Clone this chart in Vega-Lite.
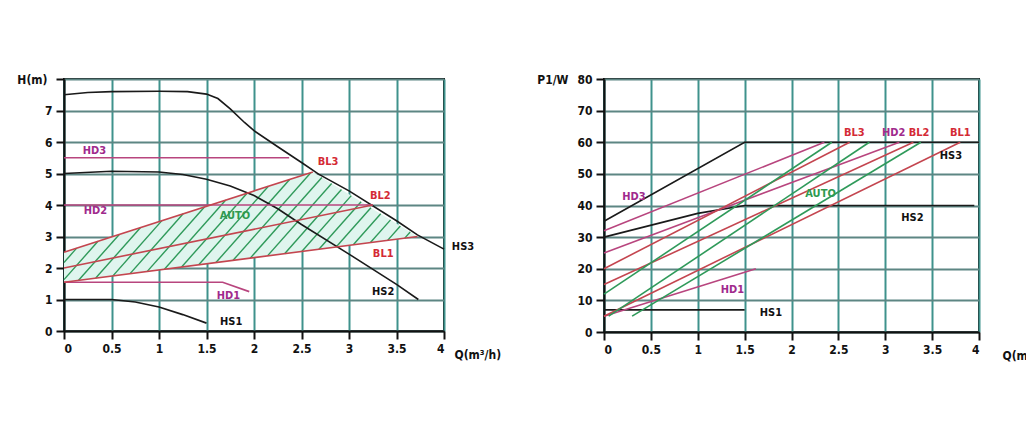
{
  "$schema": "https://vega.github.io/schema/vega-lite/v6.json",
  "background": "white",
  "padding": {"left": 15, "top": 72, "right": 0, "bottom": 0},
  "spacing": 160,
  "bounds": "flush",
  "config": {
    "view": {"stroke": "#111", "strokeWidth": 2},
    "font": "DejaVu Sans Condensed, DejaVu Sans",
    "axis": {
      "domainColor": "#111", "domainWidth": 2, "tickColor": "#111", "tickWidth": 2, "tickSize": 8,
      "labelFontWeight": "bold", "labelFontSize": 12, "labelColor": "#111", "labelPadding": 4, "labelOverlap": false,
      "titleFontWeight": "bold", "titleFontSize": 12, "titleColor": "#111",
      "grid": true, "gridWidth": 2
    },
    "text": {"fontWeight": "bold", "fontSize": 11}
  },
  "datasets": {
    "hfill": [
      {"Q": 0, "v": 2.5, "v2": 1.55},
      {"Q": 2.62, "v": 5.05, "v2": 2.571},
      {"Q": 3.72, "v": 3.0, "v2": 3.0}
    ],
    "hlines": [
      {"s": "HS3", "k": "hs", "Q": 0, "v": 7.5}, {"s": "HS3", "k": "hs", "Q": 0.25, "v": 7.57}, {"s": "HS3", "k": "hs", "Q": 0.5, "v": 7.6},
      {"s": "HS3", "k": "hs", "Q": 1.0, "v": 7.61}, {"s": "HS3", "k": "hs", "Q": 1.3, "v": 7.6}, {"s": "HS3", "k": "hs", "Q": 1.5, "v": 7.52},
      {"s": "HS3", "k": "hs", "Q": 1.62, "v": 7.38}, {"s": "HS3", "k": "hs", "Q": 1.75, "v": 7.05}, {"s": "HS3", "k": "hs", "Q": 1.9, "v": 6.62},
      {"s": "HS3", "k": "hs", "Q": 2.0, "v": 6.36}, {"s": "HS3", "k": "hs", "Q": 2.25, "v": 5.85}, {"s": "HS3", "k": "hs", "Q": 2.5, "v": 5.35},
      {"s": "HS3", "k": "hs", "Q": 2.68, "v": 4.98}, {"s": "HS3", "k": "hs", "Q": 3.0, "v": 4.45}, {"s": "HS3", "k": "hs", "Q": 3.5, "v": 3.5},
      {"s": "HS3", "k": "hs", "Q": 3.72, "v": 3.05}, {"s": "HS3", "k": "hs", "Q": 4.0, "v": 2.6},
      {"s": "HS2", "k": "hs", "Q": 0, "v": 5.0}, {"s": "HS2", "k": "hs", "Q": 0.5, "v": 5.07}, {"s": "HS2", "k": "hs", "Q": 1.0, "v": 5.05},
      {"s": "HS2", "k": "hs", "Q": 1.25, "v": 4.97}, {"s": "HS2", "k": "hs", "Q": 1.5, "v": 4.82}, {"s": "HS2", "k": "hs", "Q": 1.75, "v": 4.6},
      {"s": "HS2", "k": "hs", "Q": 2.0, "v": 4.3}, {"s": "HS2", "k": "hs", "Q": 2.25, "v": 3.88}, {"s": "HS2", "k": "hs", "Q": 2.5, "v": 3.38},
      {"s": "HS2", "k": "hs", "Q": 3.0, "v": 2.44}, {"s": "HS2", "k": "hs", "Q": 3.5, "v": 1.48}, {"s": "HS2", "k": "hs", "Q": 3.73, "v": 1.0},
      {"s": "HS1", "k": "hs", "Q": 0, "v": 1.0}, {"s": "HS1", "k": "hs", "Q": 0.5, "v": 1.0}, {"s": "HS1", "k": "hs", "Q": 0.75, "v": 0.92},
      {"s": "HS1", "k": "hs", "Q": 1.0, "v": 0.76}, {"s": "HS1", "k": "hs", "Q": 1.25, "v": 0.52}, {"s": "HS1", "k": "hs", "Q": 1.5, "v": 0.25},
      {"s": "HD3", "k": "hd", "Q": 0, "v": 5.5}, {"s": "HD3", "k": "hd", "Q": 2.37, "v": 5.5},
      {"s": "HD2", "k": "hd", "Q": 0, "v": 4.0}, {"s": "HD2", "k": "hd", "Q": 3.25, "v": 4.0},
      {"s": "HD1", "k": "hd", "Q": 0, "v": 1.55}, {"s": "HD1", "k": "hd", "Q": 1.67, "v": 1.55}, {"s": "HD1", "k": "hd", "Q": 1.95, "v": 1.25},
      {"s": "BL3", "k": "bl", "Q": 0, "v": 2.5}, {"s": "BL3", "k": "bl", "Q": 2.62, "v": 5.05},
      {"s": "BL2", "k": "bl", "Q": 0, "v": 2.0}, {"s": "BL2", "k": "bl", "Q": 3.25, "v": 4.0},
      {"s": "BL1", "k": "bl", "Q": 0, "v": 1.55}, {"s": "BL1", "k": "bl", "Q": 3.72, "v": 3.0}
    ],
    "hhatch": [
      {"s": "h01", "Q": 0, "v": 2.176}, {"s": "h01", "Q": 0.1335, "v": 2.63},
      {"s": "h02", "Q": 0, "v": 1.632}, {"s": "h02", "Q": 0.3577, "v": 2.848},
      {"s": "h03", "Q": 0.1535, "v": 1.61}, {"s": "h03", "Q": 0.5819, "v": 3.066},
      {"s": "h04", "Q": 0.3342, "v": 1.68}, {"s": "h04", "Q": 0.806, "v": 3.284},
      {"s": "h05", "Q": 0.5149, "v": 1.751}, {"s": "h05", "Q": 1.0302, "v": 3.503},
      {"s": "h06", "Q": 0.6956, "v": 1.821}, {"s": "h06", "Q": 1.2544, "v": 3.721},
      {"s": "h07", "Q": 0.8764, "v": 1.892}, {"s": "h07", "Q": 1.4786, "v": 3.939},
      {"s": "h08", "Q": 1.0571, "v": 1.962}, {"s": "h08", "Q": 1.7027, "v": 4.157},
      {"s": "h09", "Q": 1.2378, "v": 2.032}, {"s": "h09", "Q": 1.9269, "v": 4.375},
      {"s": "h10", "Q": 1.4185, "v": 2.103}, {"s": "h10", "Q": 2.1511, "v": 4.594},
      {"s": "h11", "Q": 1.5992, "v": 2.173}, {"s": "h11", "Q": 2.3753, "v": 4.812},
      {"s": "h12", "Q": 1.7799, "v": 2.244}, {"s": "h12", "Q": 2.5994, "v": 5.03},
      {"s": "h13", "Q": 1.9607, "v": 2.314}, {"s": "h13", "Q": 2.7139, "v": 4.875},
      {"s": "h14", "Q": 2.1414, "v": 2.385}, {"s": "h14", "Q": 2.8172, "v": 4.683},
      {"s": "h15", "Q": 2.3221, "v": 2.455}, {"s": "h15", "Q": 2.9206, "v": 4.49},
      {"s": "h16", "Q": 2.5028, "v": 2.526}, {"s": "h16", "Q": 3.0239, "v": 4.297},
      {"s": "h17", "Q": 2.6835, "v": 2.596}, {"s": "h17", "Q": 3.1273, "v": 4.105},
      {"s": "h18", "Q": 2.8643, "v": 2.667}, {"s": "h18", "Q": 3.2306, "v": 3.912},
      {"s": "h19", "Q": 3.045, "v": 2.737}, {"s": "h19", "Q": 3.334, "v": 3.72},
      {"s": "h20", "Q": 3.2257, "v": 2.807}, {"s": "h20", "Q": 3.4373, "v": 3.527},
      {"s": "h21", "Q": 3.4064, "v": 2.878}, {"s": "h21", "Q": 3.5407, "v": 3.334},
      {"s": "h22", "Q": 3.5871, "v": 2.948}, {"s": "h22", "Q": 3.644, "v": 3.142}
    ],
    "hlabels": [
      {"t": "HD3", "k": "hd", "Q": 0.32, "v": 5.72}, {"t": "HD2", "k": "hd", "Q": 0.33, "v": 3.82},
      {"t": "HD1", "k": "hd", "Q": 1.73, "v": 1.12}, {"t": "HS1", "k": "hs", "Q": 1.76, "v": 0.28},
      {"t": "HS2", "k": "hs", "Q": 3.36, "v": 1.23}, {"t": "HS3", "k": "hs", "Q": 4.2, "v": 2.66},
      {"t": "BL3", "k": "bl", "Q": 2.78, "v": 5.37}, {"t": "BL2", "k": "bl", "Q": 3.33, "v": 4.28},
      {"t": "BL1", "k": "bl", "Q": 3.36, "v": 2.44}, {"t": "AUTO", "k": "auto", "Q": 1.8, "v": 3.66}
    ],
    "plines": [
      {"s": "HS3", "k": "hs", "Q": 0, "v": 35}, {"s": "HS3", "k": "hs", "Q": 1.5, "v": 60}, {"s": "HS3", "k": "hs", "Q": 4.0, "v": 60},
      {"s": "HS2", "k": "hs", "Q": 0, "v": 30}, {"s": "HS2", "k": "hs", "Q": 1.0, "v": 37.5}, {"s": "HS2", "k": "hs", "Q": 1.5, "v": 40}, {"s": "HS2", "k": "hs", "Q": 3.95, "v": 40},
      {"s": "HS1", "k": "hs", "Q": 0, "v": 7}, {"s": "HS1", "k": "hs", "Q": 1.5, "v": 7},
      {"s": "HD3", "k": "hd", "Q": 0, "v": 32}, {"s": "HD3", "k": "hd", "Q": 2.35, "v": 60},
      {"s": "HD2", "k": "hd", "Q": 0, "v": 25}, {"s": "HD2", "k": "hd", "Q": 3.15, "v": 60},
      {"s": "HD1", "k": "hd", "Q": 0, "v": 5}, {"s": "HD1", "k": "hd", "Q": 1.62, "v": 20},
      {"s": "BL3", "k": "bl", "Q": 0, "v": 20}, {"s": "BL3", "k": "bl", "Q": 2.62, "v": 60},
      {"s": "BL2", "k": "bl", "Q": 0, "v": 15}, {"s": "BL2", "k": "bl", "Q": 3.3, "v": 60},
      {"s": "BL1", "k": "bl", "Q": 0, "v": 5}, {"s": "BL1", "k": "bl", "Q": 3.8, "v": 60},
      {"s": "A1", "k": "auto", "Q": 0, "v": 12}, {"s": "A1", "k": "auto", "Q": 2.43, "v": 60},
      {"s": "A2", "k": "auto", "Q": 0.05, "v": 5}, {"s": "A2", "k": "auto", "Q": 2.83, "v": 60},
      {"s": "A3", "k": "auto", "Q": 0.3, "v": 5}, {"s": "A3", "k": "auto", "Q": 3.38, "v": 60}
    ],
    "plabels": [
      {"t": "HD3", "k": "hd", "Q": 0.32, "v": 42.8}, {"t": "HD1", "k": "hd", "Q": 1.37, "v": 13.3},
      {"t": "HS1", "k": "hs", "Q": 1.78, "v": 5.9}, {"t": "HS2", "k": "hs", "Q": 3.29, "v": 36},
      {"t": "HS3", "k": "hs", "Q": 3.7, "v": 55.7}, {"t": "AUTO", "k": "auto", "Q": 2.31, "v": 43.6},
      {"t": "BL3", "k": "bl", "Q": 2.67, "v": 63}, {"t": "HD2", "k": "hd", "Q": 3.09, "v": 63},
      {"t": "BL2", "k": "bl", "Q": 3.36, "v": 63}, {"t": "BL1", "k": "bl", "Q": 3.8, "v": 63}
    ]
  },
  "hconcat": [
    {
      "width": 380, "height": 252,
      "encoding": {
        "x": {"field": "Q", "type": "quantitative", "scale": {"domain": [0, 4], "nice": false},
          "axis": {"values": [0, 0.5, 1, 1.5, 2, 2.5, 3, 3.5, 4], "tickCount": 40, "format": ".1~f", "gridColor": "#3f928c", "title": "Q(m³/h)", "titleAngle": 0, "titleX": 390, "titleY": 23, "titleAlign": "left", "titleBaseline": "middle"}},
        "y": {"field": "v", "type": "quantitative", "scale": {"domain": [0, 8], "nice": false},
          "axis": {"values": [0, 1, 2, 3, 4, 5, 6, 7, 8], "tickCount": 40, "format": "d", "gridColor": "#5d8683", "labelExpr": "datum.value == 8 ? '' : datum.label", "title": "H(m)", "titleAngle": 0, "titleX": -17, "titleY": 0, "titleAlign": "right", "titleBaseline": "middle"}}
      },
      "layer": [
        {
          "data": {"name": "hfill"},
          "mark": {"type": "area", "color": "#dff5ee", "opacity": 1},
          "encoding": {"y2": {"field": "v2"}}
        },
        {
          "data": {"name": "hhatch"},
          "mark": {"type": "line", "color": "#2f9a5a", "strokeWidth": 1.4},
          "encoding": {"detail": {"field": "s"}}
        },
        {
          "data": {"name": "hlines"},
          "mark": {"type": "line", "strokeWidth": 1.6},
          "encoding": {
            "detail": {"field": "s"},
            "color": {"field": "k", "type": "nominal", "legend": null,
              "scale": {"domain": ["hs", "hd", "bl", "auto"], "range": ["#1a1a1a", "#b8457e", "#c4454f", "#2f9a5a"]}}
          }
        },
        {
          "data": {"name": "hlabels"},
          "mark": {"type": "text", "align": "center", "baseline": "middle"},
          "encoding": {
            "text": {"field": "t"},
            "color": {"field": "k", "type": "nominal", "legend": null,
              "scale": {"domain": ["hs", "hd", "bl", "auto"], "range": ["#111111", "#a02a8c", "#d42a35", "#2e9a50"]}}
          }
        }
      ],
      "resolve": {"scale": {"color": "independent"}}
    },
    {
      "width": 375, "height": 253,
      "encoding": {
        "x": {"field": "Q", "type": "quantitative", "scale": {"domain": [0, 4], "nice": false},
          "axis": {"values": [0, 0.5, 1, 1.5, 2, 2.5, 3, 3.5, 4], "tickCount": 40, "format": ".1~f", "gridColor": "#3f928c", "title": "Q(m³/h)", "titleAngle": 0, "titleX": 398, "titleY": 23, "titleAlign": "left", "titleBaseline": "middle"}},
        "y": {"field": "v", "type": "quantitative", "scale": {"domain": [0, 80], "nice": false},
          "axis": {"values": [0, 10, 20, 30, 40, 50, 60, 70, 80], "tickCount": 40, "format": "d", "gridColor": "#5d8683", "title": "P1/W", "titleAngle": 0, "titleX": -36, "titleY": 0, "titleAlign": "right", "titleBaseline": "middle"}}
      },
      "layer": [
        {
          "data": {"name": "plines"},
          "mark": {"type": "line", "strokeWidth": 1.6},
          "encoding": {
            "detail": {"field": "s"},
            "color": {"field": "k", "type": "nominal", "legend": null,
              "scale": {"domain": ["hs", "hd", "bl", "auto"], "range": ["#1a1a1a", "#b8457e", "#c4454f", "#2f9a5a"]}}
          }
        },
        {
          "data": {"name": "plabels"},
          "mark": {"type": "text", "align": "center", "baseline": "middle"},
          "encoding": {
            "text": {"field": "t"},
            "color": {"field": "k", "type": "nominal", "legend": null,
              "scale": {"domain": ["hs", "hd", "bl", "auto"], "range": ["#111111", "#a02a8c", "#d42a35", "#2e9a50"]}}
          }
        }
      ],
      "resolve": {"scale": {"color": "independent"}}
    }
  ]
}
